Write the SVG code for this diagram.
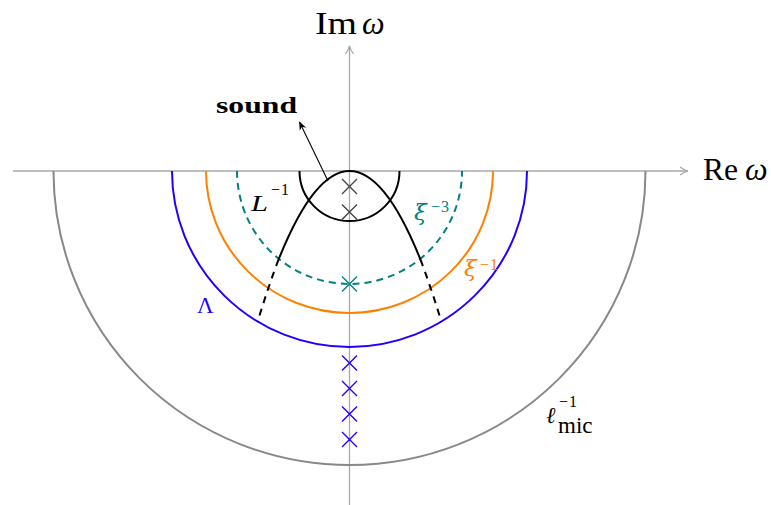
<svg xmlns="http://www.w3.org/2000/svg" width="771" height="505" viewBox="0 0 771 505">
<style>
.axis{stroke:#a8a8a8;stroke-width:1.3;fill:none}
.arc{fill:none;stroke-width:2}
.cross{stroke-width:1.4;fill:none}
.t{font-family:"Liberation Serif","DejaVu Serif",serif;font-size:23px}
.big{font-size:32px}
.it{font-style:italic}
.gr{font-family:"DejaVu Serif","Liberation Serif",serif;font-style:italic;font-size:23px}
.sup{font-size:16px}
</style>
<defs>
<marker id="ax" viewBox="0 0 10 10" refX="9" refY="5" markerWidth="10" markerHeight="10" markerUnits="userSpaceOnUse" orient="auto">
<path d="M1,1 Q5,4 9,5 Q5,6 1,9" fill="none" stroke="#a8a8a8" stroke-width="1.2"/>
</marker>
<marker id="ar" viewBox="0 0 10 10" refX="9" refY="5" markerWidth="9" markerHeight="9" markerUnits="userSpaceOnUse" orient="auto">
<path d="M0,1 L10,5 L0,9 L3,5 Z" fill="#000"/>
</marker>
</defs>
<rect width="771" height="505" fill="#fff"/>
<g id="axes">
<line class="axis" x1="13" y1="171" x2="688" y2="171" marker-end="url(#ax)"/>
<line class="axis" x1="349.5" y1="505" x2="349.5" y2="46" marker-end="url(#ax)"/>
</g>
<g id="circles">
<path id="lmic" class="arc" stroke="#888" d="M53.5,171 A296 294 0 0 0 645.5,171"/>
<path id="lambda" class="arc" stroke="#2200ff" d="M172,171 A177.5 176 0 0 0 527,171"/>
<path id="xi1" class="arc" stroke="#ff8000" d="M206,171 A143.5 142 0 0 0 493,171"/>
<path id="xi3" class="arc" stroke="#008080" stroke-dasharray="7 5" d="M237,171 A112.5 113 0 0 0 462,171"/>
<path id="Linv" class="arc" stroke="#000" d="M299.5,171 A50 50 0 0 0 399.5,171"/>
</g>
<g id="parabola">
<path class="arc" stroke="#000" d="M278.5,259.7 Q349.5,82.3 420.5,259.7"/>
<path class="arc" stroke="#000" stroke-dasharray="7 6" d="M278.5,259.7 Q268.25,286.7 257.5,322"/>
<path class="arc" stroke="#000" stroke-dasharray="7 6" d="M420.5,259.7 Q430.75,286.7 441.5,322"/>
</g>
<g id="crosses">
<path class="cross" stroke="#444" d="M342,179 L357,194 M357,179 L342,194"/>
<path class="cross" stroke="#444" d="M342,204.5 L357,219.5 M357,204.5 L342,219.5"/>
<path class="cross" stroke="#008080" d="M342,276.5 L357,291.5 M357,276.5 L342,291.5"/>
<path class="cross" stroke="#2200ff" d="M342,355.5 L357,370.5 M357,355.5 L342,370.5"/>
<path class="cross" stroke="#2200ff" d="M342,381 L357,396 M357,381 L342,396"/>
<path class="cross" stroke="#2200ff" d="M342,406.5 L357,421.5 M357,406.5 L342,421.5"/>
<path class="cross" stroke="#2200ff" d="M342,432 L357,447 M357,432 L342,447"/>
</g>
<g id="connectors">
<line x1="328" y1="181" x2="299.5" y2="122" stroke="#000" stroke-width="1.1" marker-end="url(#ar)"/>
</g>
<g id="labels">
<text class="t big" x="315" y="33.5" textLength="42" lengthAdjust="spacingAndGlyphs">Im</text>
<text class="t big it" x="362" y="33.5">ω</text>
<text class="t big" x="703" y="180" textLength="35" lengthAdjust="spacingAndGlyphs">Re</text>
<text class="t big it" x="745" y="180">ω</text>
<text class="t" x="216" y="113" font-size="26" font-weight="bold" textLength="81" lengthAdjust="spacingAndGlyphs">sound</text>
<text class="t it" x="251" y="210.5" textLength="17" lengthAdjust="spacingAndGlyphs">L</text>
<text class="t sup" x="271" y="195">−<tspan dx="1">1</tspan></text>
<text class="gr" x="414" y="220" fill="#008080">ξ</text>
<text class="t sup" x="431" y="212" fill="#008080">−<tspan dx="1">3</tspan></text>
<text class="gr" x="464" y="276" fill="#ff8000">ξ</text>
<text class="t sup" x="480" y="270" fill="#ff8000">−<tspan dx="1">1</tspan></text>
<text class="t" x="197" y="313" font-size="25" fill="#2200ff">Λ</text>
<text class="t it" x="546" y="423" font-size="25">ℓ</text>
<text class="t sup" x="559" y="407">−<tspan dx="1">1</tspan></text>
<text class="t" x="558" y="433" font-size="15">mic</text>
</g>
</svg>
